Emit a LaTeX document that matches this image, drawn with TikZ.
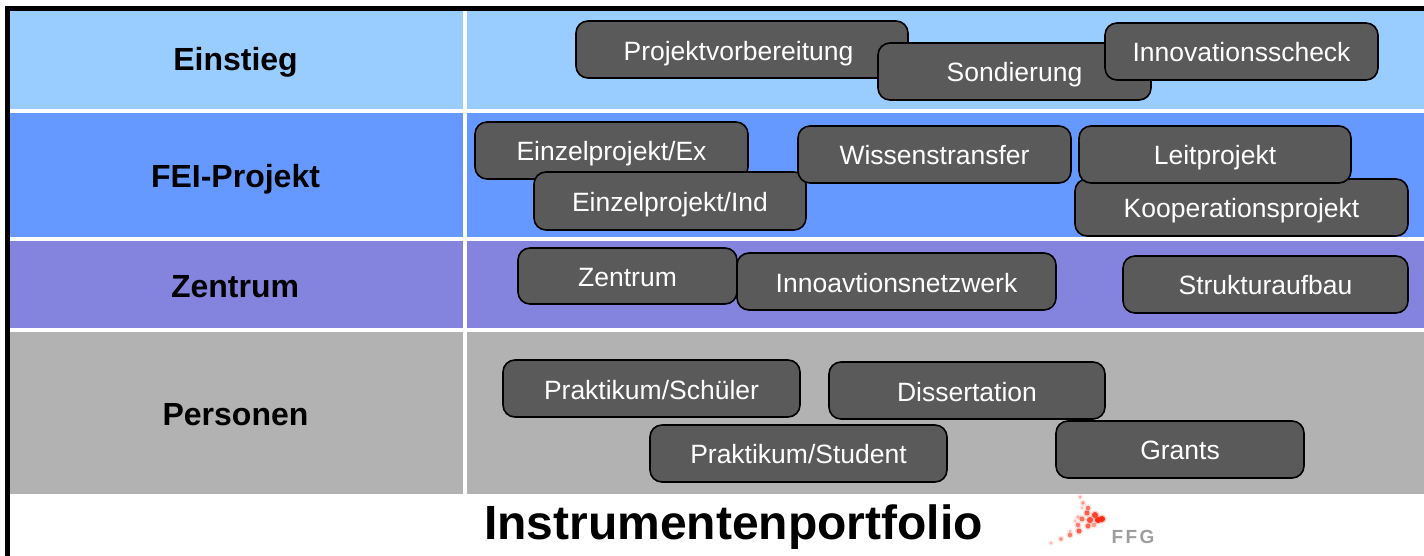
\documentclass[tikz,border=0pt]{standalone}
\usepackage{fontspec}
\setmainfont{Liberation Sans}
\definecolor{rowa}{HTML}{99CCFF}
\definecolor{rowb}{HTML}{6699FF}
\definecolor{rowc}{HTML}{8484DE}
\definecolor{rowd}{HTML}{B2B2B2}
\definecolor{tile}{HTML}{5A5A5A}
\definecolor{ffgred}{HTML}{FA2A14}
\tikzset{
  x=0.5pt,y=-0.5pt,
  tilebox/.style={draw=black,line width=0.8pt,fill=tile,rounded corners=6pt,text=white,font=\fontsize{13.25}{16}\selectfont,inner sep=0pt,align=center,anchor=center},
  band/.style={draw=none,inner sep=0pt,anchor=center},
  head/.style={font=\bfseries\fontsize{16}{18}\selectfont,text=black,inner sep=0pt}
}
% [text drop], name, x1, y1, x2, y2, text
\newcommand{\tilebx}[7][4.9]{%
  \pgfmathsetmacro{\tw}{(#5-#3)*0.5}\pgfmathsetmacro{\th}{(#6-#4)*0.5}%
  \node[tilebox,minimum width=\tw pt,minimum height=\th pt] (#2) at ({(#3+#5)/2},{(#4+#6)/2}) {\raisebox{-#1pt}[0pt][0pt]{#7}};}
\newcommand{\bandbx}[6]{%
  \pgfmathsetmacro{\tw}{(#4-#2)*0.5}\pgfmathsetmacro{\th}{(#5-#3)*0.5}%
  \node[band,fill=#6,minimum width=\tw pt,minimum height=\th pt] (#1) at ({(#2+#4)/2},{(#3+#5)/2}) {};}
\begin{document}
\begin{tikzpicture}
\useasboundingbox (0,0) rectangle (1424,556);
\fill[white] (0,0) rectangle (1424,556);
% frame
\fill[black] (5,6) rectangle (1424,11);
\fill[black] (5,6) rectangle (10,556);
% bands
\bandbx{la}{10}{11}{463}{109}{rowa}
\bandbx{ra}{467}{11}{1424}{109}{rowa}
\bandbx{lb}{10}{113}{463}{237}{rowb}
\bandbx{rb}{467}{113}{1424}{237}{rowb}
\bandbx{lc}{10}{241}{463}{328}{rowc}
\bandbx{rc}{467}{241}{1424}{328}{rowc}
\bandbx{ld}{10}{332}{463}{494}{rowd}
\bandbx{rd}{467}{332}{1424}{494}{rowd}
% headings
\node[head] (h1) at (235.5,63) {\strut Einstieg};
\node[head] (h2) at (235.5,180) {\strut FEI-Projekt};
\node[head] (h3) at (235,290) {\strut Zentrum};
\node[head] (h4) at (235.5,418) {\strut Personen};
% tiles
\tilebx[5.4]{t1}{576}{21}{908}{78}{\kern-3.5pt Projektvorbereitung}
\tilebx{t2}{878}{43}{1151}{100}{Sondierung}
\tilebx{t3}{1105}{23}{1378}{80}{Innovationsscheck}
\tilebx{t4}{475}{122}{748}{179}{Einzelprojekt/Ex}
\tilebx[5.4]{t5}{534}{172}{806}{230}{Einzelprojekt/Ind}
\tilebx{t6}{798}{126}{1071}{183}{Wissenstransfer}
\tilebx{t7}{1075}{179}{1408}{236}{Kooperationsprojekt}
\tilebx{t8}{1079}{126}{1351}{183}{Leitprojekt}
\tilebx[5.4]{t9}{518}{248}{737}{304}{Zentrum}
\tilebx[5.4]{t10}{737}{253}{1056}{310}{Innoavtionsnetzwerk}
\tilebx{t11}{1123}{256}{1408}{313}{Strukturaufbau}
\tilebx[5.4]{t12}{503}{360}{800}{417}{Praktikum/Schüler}
\tilebx[5.4]{t13}{829}{362}{1105}{419}{Dissertation}
\tilebx{t14}{650}{425}{947}{482}{Praktikum/Student}
\tilebx{t15}{1056}{421}{1304}{478}{Grants}
% title
\node[font=\bfseries\fontsize{24}{28}\selectfont,inner sep=0pt] (title) at (733.5,528) {\strut Instrumentenportfolio};
% logo
\foreach \px/\py/\r/\o in {1051/543/1.5/.3,1061/539/2/.4,1070/535/2.2/.55,1079/531/2.5/.7,1070/531/1.5/.25,1088/526/2.5/.65,1078/525/2.2/.55,1098/520/3/1,1090/520/3/.8,1082/519/2.5/.6,1102/519/3/1,1095/515/3/.85,1087/513/2.5/.7,1078/517/1.8/.3,1088/508/2.2/.6,1083/503/1.8/.45,1080/497/1.5/.35,1082/508/1.5/.25,1094/525/2.2/.4,1075/521/1.5/.25}
  {\fill[ffgred,opacity=0.25*\o] (\px,\py) circle[radius=\r+1.5];
   \fill[ffgred,opacity=\o] (\px,\py) circle[radius=\r];}
\node[font=\bfseries\fontsize{9.5}{10}\selectfont,text=black!38,inner sep=0pt] (ffg) at (1133,537) {F\kern1.2pt F\kern1.2pt G};
\end{tikzpicture}
\end{document}
